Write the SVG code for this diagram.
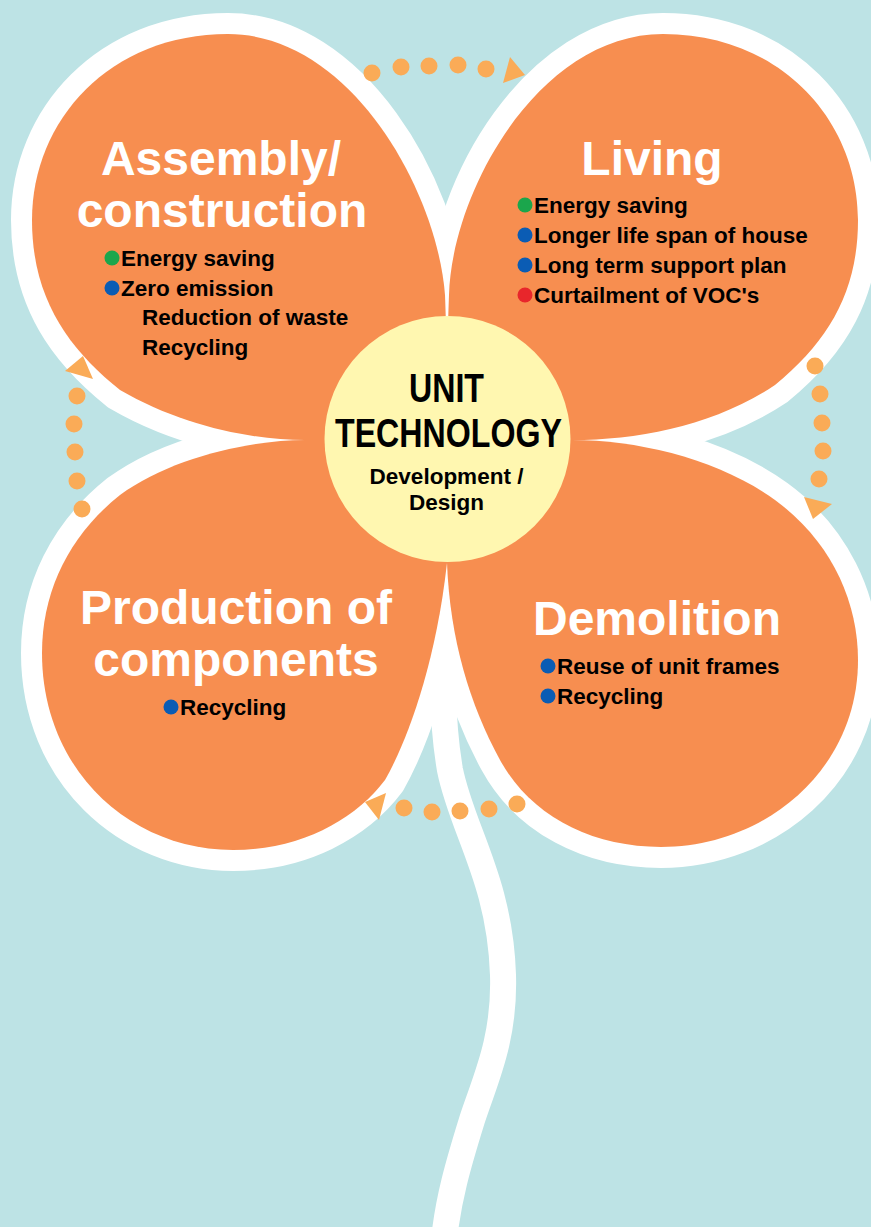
<svg xmlns="http://www.w3.org/2000/svg" width="871" height="1227" viewBox="0 0 871 1227">
<style>
.bg{fill:#BDE3E5}
.border{fill:#fff;stroke:#fff;stroke-width:42;stroke-linejoin:round}
.petal{fill:#F78E50}
.stem{fill:none;stroke:#fff;stroke-width:26}
.title{font-family:"Liberation Sans",Arial,Helvetica,sans-serif;font-weight:bold;font-size:48px;fill:#fff;text-anchor:middle}
.item{font-family:"Liberation Sans",Arial,Helvetica,sans-serif;font-weight:bold;font-size:22.5px;fill:#000}
.hubt{font-family:"Liberation Sans",Arial,Helvetica,sans-serif;font-weight:bold;font-size:41px;fill:#000;text-anchor:middle}
.hubs{font-family:"Liberation Sans",Arial,Helvetica,sans-serif;font-weight:bold;font-size:22.5px;fill:#000;text-anchor:middle}
.g{fill:#1BA64C}.b{fill:#0B5CB4}.r{fill:#E8262B}
.dot{fill:#FAAB57}
.hub{fill:#FFF7B0}
</style>
<defs>
<path id="p-tl" d="M447,440 C447,360 446,320 445,295 C437,190 350,34 228,34 C110,34 32,120 32,220 C32,300 70,350 120,390 C180,425 250,440 305,440 Z"/>
<path id="p-tr" d="M447,440 C447,360 448,320 449,295 C452,190 540,34 663,34 C780,34 858,120 858,220 C858,290 830,340 775,385 C715,425 640,440 572,440 Z"/>
<path id="p-bl" d="M447,440 L305,440 C250,440 170,458 120,495 C70,535 42,590 42,653 C42,770 130,850 233,850 C300,850 355,820 385,780 C405,745 435,670 447,563 Z"/>
<path id="p-br" d="M447,440 L572,440 C640,440 720,460 775,500 C830,540 858,600 858,660 C858,770 765,847 661,847 C590,847 530,815 500,760 C470,705 450,640 447,563 Z"/>
</defs>
<rect class="bg" x="0" y="0" width="871" height="1227"/>
<g id="stem">
<path class="stem" d="M447,560 C445,640 438,700 450,770 C462,830 500,880 503,975 C505,1040 485,1080 472,1120 C458,1165 448,1200 444,1240"/>
</g>
<g id="outlines">
<use href="#p-tl" class="border"/>
<use href="#p-tr" class="border"/>
<use href="#p-bl" class="border"/>
<use href="#p-br" class="border"/>
</g>
<g id="assembly">
<use href="#p-tl" class="petal"/>
<text class="title" x="221" y="175">Assembly/</text>
<text class="title" x="222" y="227">construction</text>
<circle class="g" cx="112" cy="258" r="7.5"/>
<text class="item" x="121" y="266">Energy saving</text>
<circle class="b" cx="112" cy="288" r="7.5"/>
<text class="item" x="121" y="296">Zero emission</text>
<text class="item" x="142" y="325">Reduction of waste</text>
<text class="item" x="142" y="355">Recycling</text>
</g>
<g id="living">
<use href="#p-tr" class="petal"/>
<text class="title" x="652" y="175">Living</text>
<circle class="g" cx="525" cy="205" r="7.5"/>
<text class="item" x="534" y="213">Energy saving</text>
<circle class="b" cx="525" cy="235" r="7.5"/>
<text class="item" x="534" y="243">Longer life span of house</text>
<circle class="b" cx="525" cy="265" r="7.5"/>
<text class="item" x="534" y="273">Long term support plan</text>
<circle class="r" cx="525" cy="295" r="7.5"/>
<text class="item" x="534" y="303">Curtailment of VOC's</text>
</g>
<g id="production">
<use href="#p-bl" class="petal"/>
<text class="title" x="236" y="624">Production of</text>
<text class="title" x="236" y="676">components</text>
<circle class="b" cx="171" cy="707" r="7.5"/>
<text class="item" x="180" y="715">Recycling</text>
</g>
<g id="demolition">
<use href="#p-br" class="petal"/>
<text class="title" x="657" y="635">Demolition</text>
<circle class="b" cx="548" cy="666" r="7.5"/>
<text class="item" x="557" y="674">Reuse of unit frames</text>
<circle class="b" cx="548" cy="696" r="7.5"/>
<text class="item" x="557" y="704">Recycling</text>
</g>
<g id="unit-technology">
<circle class="hub" cx="447.5" cy="439" r="123"/>
<text class="hubt" x="446.5" y="402" textLength="75" lengthAdjust="spacingAndGlyphs">UNIT</text>
<text class="hubt" x="448.5" y="447" textLength="227" lengthAdjust="spacingAndGlyphs">TECHNOLOGY</text>
<text class="hubs" x="446.5" y="484">Development /</text>
<text class="hubs" x="446.5" y="510">Design</text>
</g>
<g id="connectors">
<g id="arrow-top">
<circle class="dot" cx="372" cy="73" r="8.5"/>
<circle class="dot" cx="401" cy="67" r="8.5"/>
<circle class="dot" cx="429" cy="66" r="8.5"/>
<circle class="dot" cx="458" cy="65" r="8.5"/>
<circle class="dot" cx="486" cy="69" r="8.5"/>
<polygon class="dot" points="510,57 525,75 503,83"/>
</g>
<g id="arrow-right">
<circle class="dot" cx="815" cy="366" r="8.5"/>
<circle class="dot" cx="820" cy="394" r="8.5"/>
<circle class="dot" cx="822" cy="423" r="8.5"/>
<circle class="dot" cx="823" cy="451" r="8.5"/>
<circle class="dot" cx="819" cy="479" r="8.5"/>
<polygon class="dot" points="804,497 832,504 813,519"/>
</g>
<g id="arrow-bottom">
<circle class="dot" cx="517" cy="804" r="8.5"/>
<circle class="dot" cx="489" cy="809" r="8.5"/>
<circle class="dot" cx="460" cy="811" r="8.5"/>
<circle class="dot" cx="432" cy="812" r="8.5"/>
<circle class="dot" cx="404" cy="808" r="8.5"/>
<polygon class="dot" points="386,793 365,802 379,820"/>
</g>
<g id="arrow-left">
<circle class="dot" cx="82" cy="509" r="8.5"/>
<circle class="dot" cx="77" cy="481" r="8.5"/>
<circle class="dot" cx="75" cy="452" r="8.5"/>
<circle class="dot" cx="74" cy="424" r="8.5"/>
<circle class="dot" cx="77" cy="396" r="8.5"/>
<polygon class="dot" points="83,356 93,379 65,371"/>
</g>
</g>
</svg>
